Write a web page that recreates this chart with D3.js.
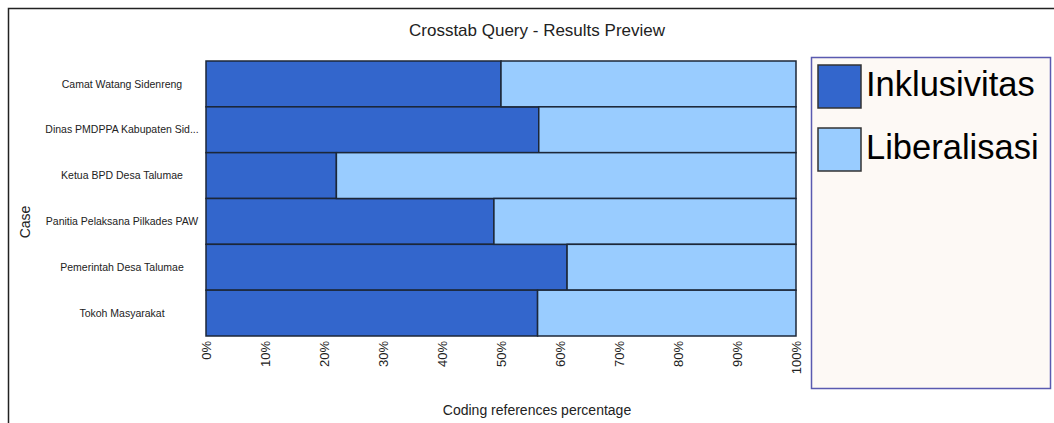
<!DOCTYPE html>
<html>
<head>
<meta charset="utf-8">
<script src="https://cdn.jsdelivr.net/npm/d3@7"></script>
<style>
  body { margin: 0; background: #fff; }
  text { font-family: Arial, "Liberation Sans", sans-serif; fill: #222; }
</style>
</head>
<body>
<svg id="chart" width="1054" height="423"></svg>
<script>
// data
var cases = ["Camat Watang Sidenreng", "Dinas PMDPPA Kabupaten Sid...", "Ketua BPD Desa Talumae",
             "Panitia Pelaksana Pilkades PAW", "Pemerintah Desa Talumae", "Tokoh Masyarakat"];
var series = ["Inklusivitas", "Liberalisasi"];
var inklusivitas = [50.0, 56.4, 22.1, 48.8, 61.2, 56.2];
var liberalisasi = inklusivitas.map(function(v) { return 100 - v; });
var ticks = [0, 10, 20, 30, 40, 50, 60, 70, 80, 90, 100];
var colors = ["#3366CC", "#99CCFF"];

var svg = d3.select("#chart");

// outer frame
svg.append("rect")
    .attr("x", 8.5).attr("y", 8.5)
    .attr("width", 1060).attr("height", 430)
    .attr("fill", "none").attr("stroke", "#222").attr("stroke-width", 1.5);

var x = d3.scaleLinear().domain([0, 100]).range([206, 796]);
var y = d3.scaleBand().domain(cases).range([61, 336]);

var rows = cases.map(function(c, i) {
    return {case: c, Inklusivitas: inklusivitas[i], Liberalisasi: liberalisasi[i]};
});
var stacked = d3.stack().keys(series)(rows);

// bars
svg.append("g")
    .selectAll("g")
    .data(stacked)
    .enter().append("g")
    .attr("fill", function(d, i) { return colors[i]; })
    .selectAll("rect")
    .data(function(d) { return d; })
    .enter().append("rect")
    .attr("x", function(d) { return x(d[0]); })
    .attr("y", function(d) { return y(d.data.case); })
    .attr("width", function(d) { return x(d[1]) - x(d[0]); })
    .attr("height", y.bandwidth())
    .attr("stroke", "#1c2738")
    .attr("stroke-width", 1.5);

// x axis labels (rotated)
svg.append("g")
    .selectAll("text")
    .data(ticks)
    .enter().append("text")
    .attr("transform", function(d) { return "translate(" + x(d) + ",341) rotate(-90)"; })
    .attr("text-anchor", "end")
    .attr("dy", "0.35em")
    .style("font-size", "13px")
    .text(function(d) { return d + "%"; });

// y axis labels
svg.append("g")
    .selectAll("text")
    .data(cases)
    .enter().append("text")
    .attr("x", 122)
    .attr("y", function(d) { return y(d) + y.bandwidth() / 2; })
    .attr("text-anchor", "middle")
    .attr("dy", "0.35em")
    .style("font-size", "10.5px")
    .text(function(d) { return d; });

// titles
svg.append("text")
    .attr("x", 537).attr("y", 36)
    .attr("text-anchor", "middle")
    .style("font-size", "17px")
    .text("Crosstab Query - Results Preview");

svg.append("text")
    .attr("x", 537).attr("y", 415)
    .attr("text-anchor", "middle")
    .style("font-size", "14px")
    .text("Coding references percentage");

svg.append("text")
    .attr("transform", "translate(30,222) rotate(-90)")
    .attr("text-anchor", "middle")
    .style("font-size", "14px")
    .text("Case");

// legend
svg.append("rect")
    .attr("x", 811.5).attr("y", 57.5)
    .attr("width", 239).attr("height", 331)
    .attr("fill", "#fdf9f5").attr("stroke", "#5a5ab0").attr("stroke-width", 1.5);

var legend = svg.append("g")
    .selectAll("g")
    .data(series)
    .enter().append("g")
    .attr("transform", function(d, i) { return "translate(818," + (65 + i * 63) + ")"; });

legend.append("rect")
    .attr("width", 43).attr("height", 43)
    .attr("fill", function(d, i) { return colors[i]; })
    .attr("stroke", "#333").attr("stroke-width", 1.5);

legend.append("text")
    .attr("x", 48).attr("y", 31)
    .style("font-size", "34.5px")
    .style("fill", "#000")
    .text(function(d) { return d; });
</script>
</body>
</html>
